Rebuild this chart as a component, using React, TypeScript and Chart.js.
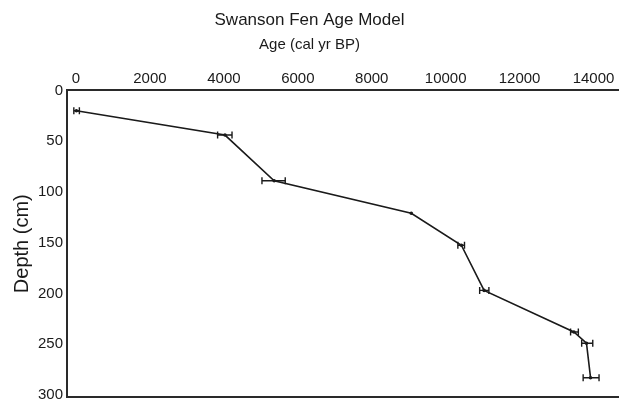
import React, { useEffect, useRef } from "react";
import { Chart, registerables } from "chart.js";

Chart.register(...registerables);

// ---- data ----
const ages = [10, 4030, 5360, 9070, 10425, 11040, 13470, 13810, 13920];
const depths = [20, 44, 89, 121, 152.5, 197, 238, 249, 283];
const ageLow = [-60, 3830, 5030, 9070, 10330, 10920, 13380, 13680, 13720];
const ageHigh = [90, 4220, 5660, 9070, 10510, 11170, 13590, 13980, 14150];
const xTicks = [0, 2000, 4000, 6000, 8000, 10000, 12000, 14000];
const yTicks = [0, 50, 100, 150, 200, 250, 300];

const titleText = "Swanson Fen Age Model";
const xTitle = "Age (cal yr BP)";
const yTitle = "Depth (cm)";

const INK = "#1a1a1a";
const FONT = "'Liberation Sans', Arial, Helvetica, sans-serif";

export default function App() {
  const ref = useRef<HTMLCanvasElement | null>(null);

  useEffect(() => {
    if (!ref.current) return;
    Chart.defaults.font.family = FONT;

    const errorBars = ages.map((_, i) => ({
      type: "scatter" as const,
      data: [
        { x: ageLow[i], y: depths[i] },
        { x: ageHigh[i], y: depths[i] },
      ],
      showLine: true,
      borderColor: INK,
      borderWidth: 1.4,
      pointRadius: ageHigh[i] - ageLow[i] > 0 ? 3.5 : 0,
      pointStyle: "line" as const,
      rotation: 90,
      pointBorderColor: INK,
      pointBorderWidth: 1.4,
    }));

    const noPad = (s: any) => {
      s.paddingLeft = 0;
      s.paddingRight = 0;
      s.paddingTop = 0;
      s.paddingBottom = 0;
    };

    const chart = new Chart(ref.current, {
      type: "scatter",
      data: {
        datasets: [
          {
            data: ages.map((a, i) => ({ x: a, y: depths[i] })),
            showLine: true,
            borderColor: INK,
            borderWidth: 1.6,
            pointRadius: 1,
            pointBackgroundColor: INK,
            pointBorderColor: INK,
          },
          ...errorBars,
        ] as any,
      },
      options: {
        animation: false,
        responsive: false,
        layout: { autoPadding: false, padding: { left: 0, right: 0, top: 0, bottom: 2 } },
        plugins: {
          legend: { display: false },
          tooltip: { enabled: false },
          title: {
            display: true,
            text: titleText,
            color: INK,
            font: { size: 17, weight: "normal" as any, family: FONT },
            padding: { top: 10, bottom: 5 },
          },
          subtitle: {
            display: true,
            text: xTitle,
            color: INK,
            font: { size: 15, weight: "normal" as any, family: FONT },
            padding: { top: 0, bottom: 13 },
          },
        },
        scales: {
          x: {
            type: "linear",
            position: "top",
            min: -244,
            max: 14690,
            grid: { display: false, drawTicks: false },
            border: { display: true, color: "#2a2a2a", width: 2 },
            ticks: {
              color: INK,
              font: { size: 15, family: FONT },
              padding: 3,
              maxRotation: 0,
              callback: (v: any) => String(v),
            },
            afterBuildTicks: (s: any) => {
              s.ticks = xTicks.map((v) => ({ value: v }));
            },
            afterFit: noPad,
          },
          x2: {
            type: "linear",
            position: "bottom",
            min: -244,
            max: 14690,
            grid: { display: false, drawTicks: false },
            border: { display: true, color: "#2a2a2a", width: 2 },
            ticks: { display: false },
            afterFit: noPad,
          },
          y: {
            type: "linear",
            position: "left",
            reverse: true,
            min: 0,
            max: 302,
            grid: { display: false, drawTicks: false },
            border: { display: true, color: "#2a2a2a", width: 2 },
            ticks: {
              color: INK,
              font: { size: 15, family: FONT },
              padding: 4,
              callback: (v: any) => String(v),
            },
            afterBuildTicks: (s: any) => {
              s.ticks = yTicks.map((v) => ({ value: v }));
            },
            title: {
              display: true,
              text: yTitle,
              color: INK,
              font: { size: 20, family: FONT },
              padding: { top: 10, bottom: 0 },
            },
            afterFit: noPad,
          },
        },
      } as any,
    });

    return () => chart.destroy();
  }, []);

  return (
    <div style={{ position: "absolute", left: 0, top: 0, width: 619, height: 399, background: "#fff" }}>
      <canvas ref={ref} width={619} height={399} style={{ display: "block" }} />
    </div>
  );
}
